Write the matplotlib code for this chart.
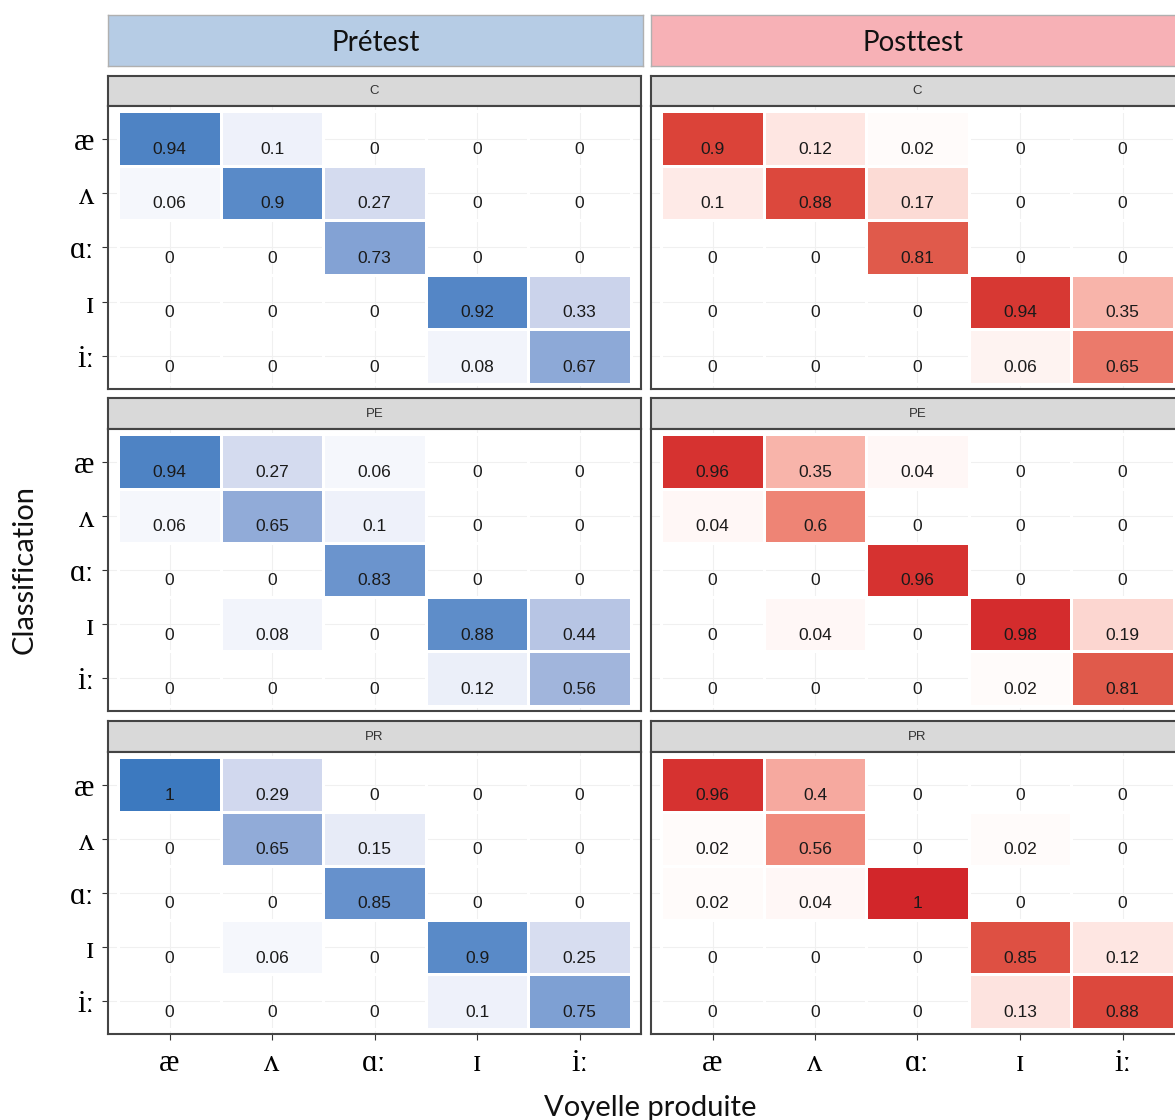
import numpy as np
import matplotlib
matplotlib.use("Agg")
import matplotlib.pyplot as plt
from matplotlib.colors import LinearSegmentedColormap

# Vowel categories (rows = classification, columns = produced vowel)
vowels = ["æ", "ʌ", "ɑː", "ɪ", "iː"]
groups = ["C", "PE", "PR"]
phases = ["Prétest", "Posttest"]

pre_C = [[0.94, 0.1, 0, 0, 0],
         [0.06, 0.9, 0.27, 0, 0],
         [0, 0, 0.73, 0, 0],
         [0, 0, 0, 0.92, 0.33],
         [0, 0, 0, 0.08, 0.67]]
pre_PE = [[0.94, 0.27, 0.06, 0, 0],
          [0.06, 0.65, 0.1, 0, 0],
          [0, 0, 0.83, 0, 0],
          [0, 0.08, 0, 0.88, 0.44],
          [0, 0, 0, 0.12, 0.56]]
pre_PR = [[1, 0.29, 0, 0, 0],
          [0, 0.65, 0.15, 0, 0],
          [0, 0, 0.85, 0, 0],
          [0, 0.06, 0, 0.9, 0.25],
          [0, 0, 0, 0.1, 0.75]]

post_C = [[0.9, 0.12, 0.02, 0, 0],
          [0.1, 0.88, 0.17, 0, 0],
          [0, 0, 0.81, 0, 0],
          [0, 0, 0, 0.94, 0.35],
          [0, 0, 0, 0.06, 0.65]]
post_PE = [[0.96, 0.35, 0.04, 0, 0],
           [0.04, 0.6, 0, 0, 0],
           [0, 0, 0.96, 0, 0],
           [0, 0.04, 0, 0.98, 0.19],
           [0, 0, 0, 0.02, 0.81]]
post_PR = [[0.96, 0.4, 0, 0, 0],
           [0.02, 0.56, 0, 0.02, 0],
           [0.02, 0.04, 1, 0, 0],
           [0, 0, 0, 0.85, 0.12],
           [0, 0, 0, 0.13, 0.88]]

pre_data = [pre_C, pre_PE, pre_PR]
post_data = [post_C, post_PE, post_PR]

blues = LinearSegmentedColormap.from_list("b", [
    (0.0, "#ffffff"), (0.1, "#eef1fa"), (0.3, "#d0d7ed"),
    (0.56, "#a1b5dc"), (0.75, "#7fa0d3"), (0.9, "#5a8ac8"), (1.0, "#3c79bf")])
reds = LinearSegmentedColormap.from_list("r", [
    (0.0, "#ffffff"), (0.1, "#feeae7"), (0.19, "#fcd6d0"), (0.37, "#f7afa5"),
    (0.6, "#ee8475"), (0.81, "#e05a4b"), (0.9, "#db4439"), (1.0, "#d2262a")])

W, H = 1175, 1120
fig = plt.figure(figsize=(W / 100, H / 100), dpi=100)


def px_axes(x0, y0, x1, y1):
    return fig.add_axes([x0 / W, 1 - y1 / H, (x1 - x0) / W, (y1 - y0) / H])


serif = ["Liberation Serif", "DejaVu Serif"]
sans = ["Liberation Sans", "DejaVu Sans"]
head = ["Lato", "DejaVu Sans"]

col_x = [(108, 641), (651, 1184)]
row_y = [(76, 106, 389), (398, 429, 711), (721, 752, 1034)]
headers = [((108, 643), "#b6cce5"), ((651, 1185), "#f7b1b6")]

for c, ((hx0, hx1), hcol) in enumerate(headers):
    hax = px_axes(hx0, 15, hx1, 66)
    hax.set_facecolor(hcol)
    hax.set_xticks([]); hax.set_yticks([])
    for s in hax.spines.values():
        s.set_color("#b0b0b0"); s.set_linewidth(1)
    hax.text(0.5 if c == 0 else 0.5 * (1175 - hx0) / (hx1 - hx0), 0.45, phases[c],
             transform=hax.transAxes, ha="center", va="center",
             fontsize=20, family=head, color="#111111")

for c, (x0, x1) in enumerate(col_x):
    data = pre_data if c == 0 else post_data
    cmap = blues if c == 0 else reds
    for r, (st, sb, pb) in enumerate(row_y):
        sax = px_axes(x0, st, x1, sb)
        sax.set_facecolor("#d9d9d9")
        sax.set_xticks([]); sax.set_yticks([])
        for s in sax.spines.values():
            s.set_color("#444444"); s.set_linewidth(1.5)
        sax.text(0.5, 0.5, groups[r], transform=sax.transAxes, ha="center",
                 va="center", fontsize=9.5, family=sans, color="#333333")

        ax = px_axes(x0, sb, x1, pb)
        vals = np.array(data[r], dtype=float)
        edges = np.arange(0.5, 6.0, 1.0)
        ax.pcolormesh(edges, edges, np.ma.masked_equal(vals, 0), cmap=cmap,
                      vmin=0, vmax=1, edgecolors="white", linewidth=1.0, zorder=2)
        ax.set_xlim(0.4, 5.6)
        ax.set_ylim(5.6, 0.4)
        ticks = np.arange(1, 6)
        ax.set_xticks(ticks)
        ax.set_yticks(ticks)
        ax.grid(True, color="#f0f0f0", linewidth=0.8, zorder=0)
        ax.set_axisbelow(True)
        for i in range(5):
            for j in range(5):
                ax.text(j + 1, i + 1 + 0.2, f"{vals[i, j]:g}", ha="center",
                        va="center", fontsize=12.5, family=sans,
                        color="#1a1a1a", zorder=3)
        for s in ax.spines.values():
            s.set_color("#444444"); s.set_linewidth(1.5)
        if c == 0:
            ax.set_yticklabels(vowels, family=serif, fontsize=22)
            ax.tick_params(axis="y", length=4, color="#333333", pad=6)
        else:
            ax.set_yticklabels([])
            ax.tick_params(axis="y", length=0)
        if r == 2:
            ax.set_xticklabels(vowels, family=serif, fontsize=22)
            ax.tick_params(axis="x", length=4, color="#333333", pad=7)
        else:
            ax.set_xticklabels([])
            ax.tick_params(axis="x", length=0)

fig.text(25 / W, 1 - 570 / H, "Classification", rotation=90, ha="center",
         va="center", fontsize=21, family=head, color="#111111")
fig.text(650 / W, 1 - 1095 / H, "Voyelle produite", ha="center", va="top",
         fontsize=21, family=head, color="#111111")

fig.savefig("out.png", dpi=100)
